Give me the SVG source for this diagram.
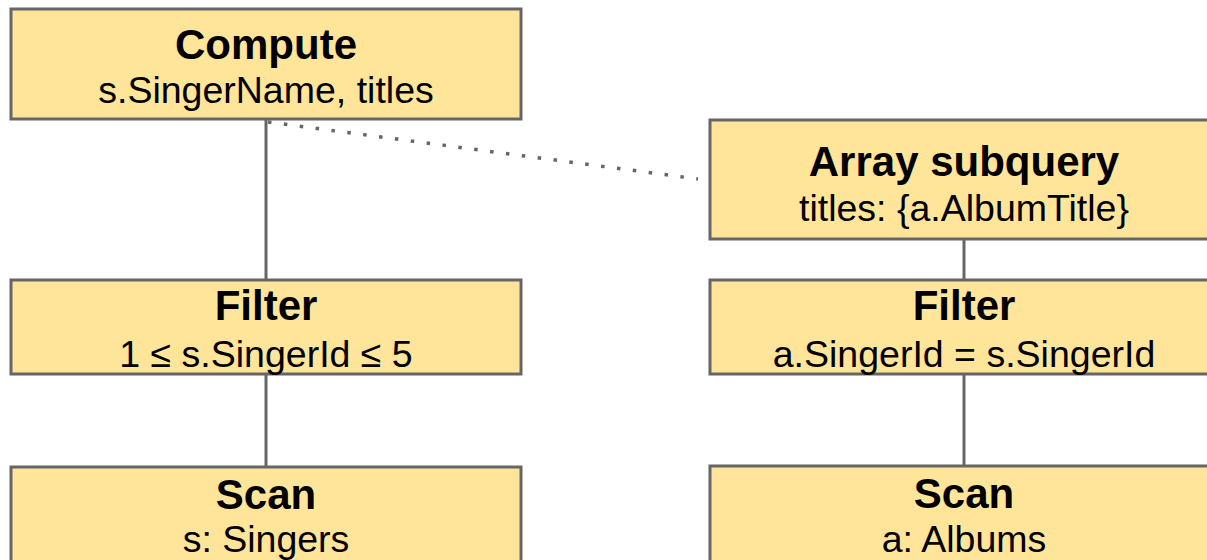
<svg xmlns="http://www.w3.org/2000/svg" width="1207" height="560" viewBox="0 0 1207 560">
<style>
.box{fill:#ffe599;stroke:#666666;stroke-width:3}
.t{font-family:"Liberation Sans",Arial,sans-serif;font-weight:bold;font-size:42px;fill:#000;text-anchor:middle}
.s{font-family:"Liberation Sans",Arial,sans-serif;font-size:37.5px;fill:#000;text-anchor:middle}
.c{stroke:#666666;stroke-width:3;fill:none}
.d{stroke:#666666;stroke-width:3.5;fill:none;stroke-dasharray:3.5 12.5}
</style>
<rect width="1207" height="560" fill="#ffffff"/>
<g id="connectors">
<line class="c" x1="266" y1="119" x2="266" y2="280"/>
<line class="c" x1="266" y1="374" x2="266" y2="467"/>
<line class="c" x1="964" y1="239" x2="964" y2="280"/>
<line class="c" x1="964" y1="374" x2="964" y2="467"/>
<line class="d" x1="268" y1="122" x2="698" y2="179"/>
</g>
<g id="compute">
<rect class="box" x="11" y="9" width="510" height="110"/>
<text class="t" x="266" y="59">Compute</text>
<text class="s" x="266" y="103">s.SingerName, titles</text>
</g>
<g id="filter-left">
<rect class="box" x="11" y="280" width="510" height="94"/>
<text class="t" x="266" y="320">Filter</text>
<text class="s" x="266" y="367">1 ≤ s.SingerId ≤ 5</text>
</g>
<g id="scan-left">
<rect class="box" x="11" y="467" width="510" height="110"/>
<text class="t" x="266" y="509">Scan</text>
<text class="s" x="266" y="552">s: Singers</text>
</g>
<g id="array-subquery">
<rect class="box" x="710" y="120" width="510" height="119"/>
<text class="t" x="964" y="176">Array subquery</text>
<text class="s" x="964" y="221">titles: {a.AlbumTitle}</text>
</g>
<g id="filter-right">
<rect class="box" x="710" y="280" width="510" height="94"/>
<text class="t" x="964" y="320">Filter</text>
<text class="s" x="964" y="367">a.SingerId = s.SingerId</text>
</g>
<g id="scan-right">
<rect class="box" x="710" y="466" width="510" height="110"/>
<text class="t" x="964" y="508">Scan</text>
<text class="s" x="964" y="552">a: Albums</text>
</g>
</svg>
